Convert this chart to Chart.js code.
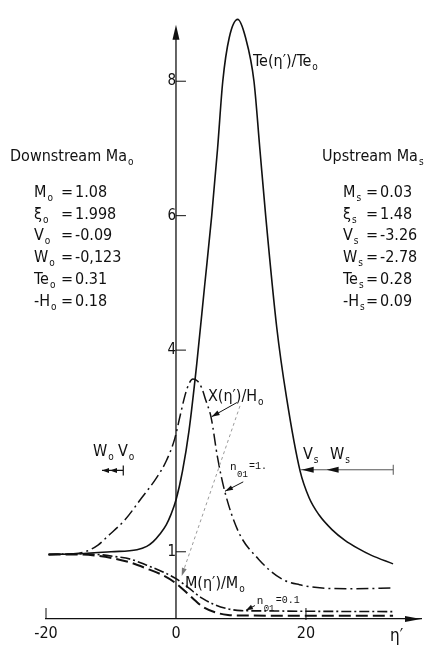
<!DOCTYPE html>
<html>
<head>
<meta charset="utf-8">
<title>Te, X and M profiles across the shock</title>
<script src="https://cdn.jsdelivr.net/npm/chart.js@4.4.1/dist/chart.umd.min.js"></script>
<style>
  html, body { margin: 0; padding: 0; background: #fff; }
  #wrap { position: relative; width: 432px; height: 649px; }
</style>
</head>
<body>
<div id="wrap"><canvas id="profileChart"></canvas></div>
<script>
// Axis ticks
const xTicks = [-20, 0, 20];
const yTicks = [1, 4, 6, 8];

// Te(η')/Te0 - solid curve
const etaTe = [-19.6, -15, -10, -6, -4.5, -3.5, -2.5, -1.5, -0.75, 0, 1, 2, 3.2, 4.4, 5.5, 6.4, 7.2, 8.2, 9.5, 10.7, 12.0, 12.9, 13.8, 15.5, 17.0, 19.1, 20.5, 22, 24, 26, 28, 30, 33.4];
const teRatio = [0.96, 0.97, 1.0, 1.03, 1.08, 1.15, 1.26, 1.4, 1.56, 1.77, 2.2, 2.8, 3.8, 4.95, 6.0, 7.0, 8.0, 8.65, 8.92, 8.65, 8.0, 7.0, 6.0, 4.34, 3.3, 2.2, 1.8, 1.55, 1.33, 1.17, 1.05, 0.95, 0.82];

// X(η')/H0 - dash-dot curve (n01 = 1.)
const etaX = [-19.6, -16, -14, -12, -10.4, -7.9, -5.3, -3, -1.5, -0.2, 0.7, 1.4, 2.0, 2.6, 3.3, 3.9, 4.6, 5.4, 6.4, 7.5, 9.6, 12.7, 16.2, 19, 22.5, 27, 33.4];
const xRatio = [0.96, 0.97, 1.0, 1.1, 1.24, 1.47, 1.8, 2.1, 2.35, 2.68, 3.05, 3.33, 3.5, 3.57, 3.54, 3.45, 3.25, 3.0, 2.4, 1.9, 1.3, 0.89, 0.6, 0.51, 0.46, 0.45, 0.46];

// M(η')/M0 - two close curves near the bottom
const etaM = [-19.6, -15, -12, -9.5, -7, -4.5, -2, 0, 2, 3, 4, 6, 8, 10, 14, 20, 33.4];
const mDashDot = [0.96, 0.97, 0.96, 0.93, 0.89, 0.8, 0.7, 0.6, 0.46, 0.38, 0.31, 0.21, 0.15, 0.125, 0.12, 0.115, 0.11];
const mDashed = [0.96, 0.96, 0.94, 0.9, 0.84, 0.75, 0.65, 0.53, 0.36, 0.27, 0.19, 0.1, 0.06, 0.052, 0.05, 0.05, 0.05];

// Boundary values printed on both sides
const paramNames = ['M', 'ξ', 'V', 'W', 'Te', '-H'];
const downValues = ['1.08', '1.998', '-0.09', '-0,123', '0.31', '0.18'];
const upValues = ['0.03', '1.48', '-3.26', '-2.78', '0.28', '0.09'];

const ink = '#111';
const family = '"DejaVu Sans Condensed", "Liberation Sans Narrow", "DejaVu Sans", sans-serif';
const mono = '"Liberation Mono", "DejaVu Sans Mono", monospace';

const toPoints = (xs, ys) => xs.map((x, i) => ({ x: x, y: ys[i] }));

// text with a lowered subscript, returns end x
function subText(ctx, main, sub, x, y, size) {
    ctx.font = size + 'px ' + family;
    ctx.fillText(main, x, y);
    const w = ctx.measureText(main).width;
    ctx.font = Math.round(size * 0.62) + 'px ' + family;
    ctx.fillText(sub, x + w + 1, y + 4);
    return x + w + 1 + ctx.measureText(sub).width;
}

// filled arrow head with its tip at (x2, y2)
function arrowHead(ctx, x1, y1, x2, y2, len, half) {
    const a = Math.atan2(y2 - y1, x2 - x1);
    ctx.beginPath();
    ctx.moveTo(x2, y2);
    ctx.lineTo(x2 - len * Math.cos(a) + half * Math.sin(a), y2 - len * Math.sin(a) - half * Math.cos(a));
    ctx.lineTo(x2 - len * Math.cos(a) - half * Math.sin(a), y2 - len * Math.sin(a) + half * Math.cos(a));
    ctx.closePath();
    ctx.fill();
}

function arrow(ctx, x1, y1, x2, y2, len, half) {
    ctx.beginPath();
    ctx.moveTo(x1, y1);
    ctx.lineTo(x2, y2);
    ctx.stroke();
    arrowHead(ctx, x1, y1, x2, y2, len, half);
}

const annotations = {
    id: 'annotations',
    afterDraw(chart) {
        const { ctx, scales: { x, y } } = chart;
        const px = v => x.getPixelForValue(v);
        const py = v => y.getPixelForValue(v);
        const x0 = px(0);
        const yBase = py(0);

        ctx.save();
        ctx.fillStyle = ink;
        ctx.strokeStyle = ink;
        ctx.textBaseline = 'alphabetic';
        ctx.textAlign = 'left';

        // vertical axis with arrow
        ctx.lineWidth = 1.3;
        ctx.beginPath();
        ctx.moveTo(x0, yBase);
        ctx.lineTo(x0, py(8.84) + 6);
        ctx.stroke();
        ctx.beginPath();
        ctx.moveTo(x0, py(8.84));
        ctx.lineTo(x0 - 3.5, py(8.84) + 15);
        ctx.lineTo(x0 + 3.5, py(8.84) + 15);
        ctx.closePath();
        ctx.fill();

        // tick marks on the vertical axis (inside)
        ctx.lineWidth = 1;
        yTicks.forEach(v => {
            ctx.beginPath();
            ctx.moveTo(x0, py(v));
            ctx.lineTo(x0 + 10, py(v));
            ctx.stroke();
        });

        // ticks on the horizontal axis and its arrow
        ctx.beginPath();
        ctx.moveTo(px(-20), yBase);
        ctx.lineTo(px(-20), yBase - 11);
        ctx.moveTo(px(20), yBase + 1);
        ctx.lineTo(px(20), yBase - 11);
        ctx.stroke();
        const xr = chart.chartArea.right;
        ctx.beginPath();
        ctx.moveTo(xr, yBase);
        ctx.lineTo(xr - 16, yBase - 3);
        ctx.lineTo(xr - 16, yBase + 3);
        ctx.closePath();
        ctx.fill();

        ctx.font = '17px ' + family;
        ctx.fillText('η′', 390, 641);

        // side blocks
        subText(ctx, 'Downstream Ma', 'o', 10, 161, 16);
        subText(ctx, 'Upstream Ma', 's', 322, 161, 16);
        paramNames.forEach((name, i) => {
            const base = 197 + i * 21.7;
            let end = subText(ctx, name, 'o', 34, base, 16);
            let eq = Math.max(61, end + 1);
            ctx.font = '16px ' + family;
            ctx.fillText('=', eq, base);
            ctx.fillText(downValues[i], eq + 14, base);

            end = subText(ctx, name, 's', 343, base, 16);
            eq = Math.max(366, end + 1);
            ctx.font = '16px ' + family;
            ctx.fillText('=', eq, base);
            ctx.fillText(upValues[i], eq + 14, base);
        });

        // curve labels
        subText(ctx, 'Te(η′)/Te', 'o', px(11.85), py(8.22), 16);
        subText(ctx, 'X(η′)/H', 'o', px(4.92), py(3.25), 16);
        subText(ctx, 'M(η′)/M', 'o', px(1.38), py(0.46), 16);

        // arrows from the X label
        ctx.lineWidth = 1;
        arrow(ctx, px(9.38), py(3.22), px(5.49), py(3.01), 8, 2.5);
        ctx.save();
        ctx.strokeStyle = '#9a9a9a';
        ctx.fillStyle = '#777';
        ctx.setLineDash([3, 3]);
        arrow(ctx, px(9.85), py(3.17), px(0.88), py(0.64), 8, 2.5);
        ctx.restore();

        // n01 labels
        const nLabel = (ex, ey, tail) => {
            const bx = px(ex), by = py(ey);
            ctx.font = '11px ' + mono;
            ctx.fillText('n', bx, by);
            ctx.font = '9px ' + mono;
            ctx.fillText('01', bx + 7, by + 7);
            ctx.font = '10px ' + mono;
            ctx.fillText(tail, bx + 19, by - 1);
        };
        nLabel(8.31, 2.22, '=1.');
        arrow(ctx, px(10.35), py(2.04), px(7.54), py(1.9), 8, 2.5);
        nLabel(12.42, 0.22, '=0.1');
        arrow(ctx, px(12.15), py(0.2), px(10.77), py(0.13), 7, 2.5);

        // W0 V0 arrow (left)
        subText(ctx, 'W', 'o', px(-12.77), py(2.42), 16);
        subText(ctx, 'V', 'o', px(-8.92), py(2.42), 16);
        const ya = py(2.21);
        ctx.lineWidth = 1.2;
        ctx.beginPath();
        ctx.moveTo(px(-11.38), ya);
        ctx.lineTo(px(-8.11), ya);
        ctx.moveTo(px(-8.11), ya - 5);
        ctx.lineTo(px(-8.11), ya + 5);
        ctx.stroke();
        arrowHead(ctx, px(-8.11), ya, px(-11.38), ya, 7, 2.5);
        arrowHead(ctx, px(-8.11), ya, px(-10.15), ya, 7, 2.5);

        // Vs Ws arrow (right)
        subText(ctx, 'V', 's', px(19.54), py(2.38), 16);
        subText(ctx, 'W', 's', px(23.69), py(2.38), 16);
        const yb = py(2.22);
        ctx.save();
        ctx.strokeStyle = '#555';
        ctx.lineWidth = 1;
        ctx.beginPath();
        ctx.moveTo(px(19.08), yb);
        ctx.lineTo(px(33.43), yb);
        ctx.moveTo(px(33.43), yb - 5);
        ctx.lineTo(px(33.43), yb + 5);
        ctx.stroke();
        ctx.restore();
        arrowHead(ctx, px(33.43), yb, px(19.34), yb, 12, 3);
        arrowHead(ctx, px(33.43), yb, px(23.18), yb, 12, 3);

        ctx.restore();
    }
};

const tickFont = { family: family, size: 16 };

new Chart(document.getElementById('profileChart'), {
    type: 'line',
    data: {
        datasets: [
            {
                label: 'Te(η′)/Te0',
                data: toPoints(etaTe, teRatio),
                borderColor: ink,
                borderWidth: 1.6
            },
            {
                label: 'X(η′)/H0 (n01 = 1.)',
                data: toPoints(etaX, xRatio),
                borderColor: ink,
                borderWidth: 1.5,
                borderDash: [12, 4, 2, 4]
            },
            {
                label: 'M(η′)/M0 (n01 = 0.1)',
                data: toPoints(etaM, mDashDot),
                borderColor: ink,
                borderWidth: 1.6,
                borderDash: [10, 3, 2, 3]
            },
            {
                label: 'M(η′)/M0',
                data: toPoints(etaM, mDashed),
                borderColor: ink,
                borderWidth: 2,
                borderDash: [12, 5]
            }
        ]
    },
    options: {
        responsive: true,
        maintainAspectRatio: false,
        animation: false,
        devicePixelRatio: 1,
        layout: { padding: { left: 46, right: 11, top: 0, bottom: 0 } },
        elements: {
            point: { radius: 0 },
            line: { cubicInterpolationMode: 'monotone', fill: false }
        },
        plugins: {
            legend: { display: false },
            tooltip: { enabled: false }
        },
        scales: {
            x: {
                type: 'linear',
                min: -20,
                max: 37.7,
                afterBuildTicks: s => { s.ticks = xTicks.map(v => ({ value: v })); },
                afterFit: s => { s.height = 30; },
                grid: { display: false, drawTicks: false },
                border: { display: true, color: ink, width: 1.3 },
                ticks: { font: tickFont, color: ink, padding: 5, maxRotation: 0, autoSkip: false }
            },
            y: {
                type: 'linear',
                min: 0,
                max: 9,
                position: { x: 0 },
                afterBuildTicks: s => { s.ticks = yTicks.map(v => ({ value: v })); },
                afterFit: s => { s.width = 0; },
                grid: { display: false, drawTicks: false },
                border: { display: false },
                ticks: { font: { family: family, size: 15 }, color: ink, padding: 5, autoSkip: false }
            }
        }
    },
    plugins: [annotations]
});
</script>
</body>
</html>
